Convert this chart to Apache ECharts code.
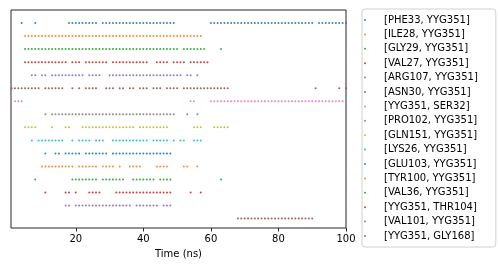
<!DOCTYPE html>
<html>
<head>
<meta charset="utf-8">
<script src="https://cdn.jsdelivr.net/npm/echarts@6/dist/echarts.min.js"></script>
<style>
  html, body { margin: 0; padding: 0; background: #fff; }
  #chart { width: 498px; height: 266px; }
</style>
</head>
<body>
<div id="chart"></div>
<script>
// contact names, top row first
const pairNames = [
    '[PHE33, YYG351]', '[ILE28, YYG351]', '[GLY29, YYG351]', '[VAL27, YYG351]',
    '[ARG107, YYG351]', '[ASN30, YYG351]', '[YYG351, SER32]', '[PRO102, YYG351]',
    '[GLN151, YYG351]', '[LYS26, YYG351]', '[GLU103, YYG351]', '[TYR100, YYG351]',
    '[VAL36, YYG351]', '[YYG351, THR104]', '[VAL101, YYG351]', '[YYG351, GLY168]'
];

// times (ns) at which each contact is present
const phe33 = [4, 8, 18, 19, 20, 21, 22, 23, 24, 25, 26, 28, 29, 30, 31, 32, 33, 34, 35, 36, 37, 38, 39,
    40, 41, 42, 43, 44, 45, 46, 47, 48, 49, 60, 61, 62, 63, 64, 65, 66, 67, 68, 69, 70, 71, 72, 73, 74,
    75, 76, 77, 78, 79, 80, 81, 82, 83, 84, 85, 86, 87, 88, 89, 90, 92, 93, 94, 95, 96, 97, 98, 99, 100];
const ile28 = [5, 6, 7, 8, 9, 10, 11, 12, 13, 14, 15, 16, 17, 18, 19, 20, 21, 22, 23, 24, 25, 26, 27, 28,
    29, 30, 31, 32, 33, 34, 35, 36, 37, 38, 39, 40, 41, 42, 43, 44, 45, 46, 47, 48, 49, 50, 51, 52, 53,
    54, 55, 56, 57];
const gly29 = [5, 6, 7, 8, 9, 10, 11, 12, 13, 14, 15, 16, 17, 18, 19, 20, 21, 22, 23, 24, 25, 26, 27, 28,
    29, 30, 31, 32, 33, 34, 35, 36, 37, 38, 39, 40, 41, 42, 43, 44, 45, 46, 47, 48, 49, 50, 52, 53, 54,
    55, 56, 57, 58, 63];
const val27 = [5, 6, 7, 8, 9, 10, 11, 12, 13, 14, 15, 16, 17, 19, 20, 21, 23, 24, 25, 26, 27, 28, 29,
    31, 32, 33, 34, 35, 36, 37, 38, 39, 40, 41, 44, 45, 46, 47, 49, 50, 51, 52, 54, 55, 56, 57, 58, 59];
const arg107 = [7, 8, 10, 11, 13, 14, 15, 16, 17, 18, 19, 20, 21, 22, 24, 25, 26, 27, 30, 31, 32, 33,
    34, 35, 36, 37, 38, 39, 40, 41, 42, 43, 44, 45, 46, 47, 48, 49, 50, 51, 53, 54, 56];
const asn30 = [1, 2, 3, 4, 5, 6, 7, 8, 9, 11, 12, 13, 14, 15, 16, 19, 21, 23, 24, 25, 26, 29, 30, 31,
    33, 34, 36, 37, 39, 40, 41, 43, 44, 45, 47, 48, 49, 50, 52, 53, 54, 55, 56, 57, 58, 59, 60, 61, 62,
    63, 64, 65, 91, 98, 100];
const ser32 = [2, 3, 4, 54, 55, 60, 61, 62, 63, 64, 65, 66, 67, 68, 69, 70, 71, 72, 73, 74, 75, 76, 77,
    78, 79, 80, 81, 82, 83, 84, 85, 86, 87, 88, 89, 90, 91, 92, 93, 94, 95, 96, 97, 98, 99];
const pro102 = [11, 13, 14, 15, 16, 17, 18, 19, 20, 21, 22, 23, 24, 25, 26, 27, 28, 29, 30, 31, 32, 33,
    34, 35, 36, 37, 38, 39, 40, 41, 42, 43, 44, 45, 46, 47, 48, 49, 53, 56];
const gln151 = [5, 6, 7, 8, 13, 17, 18, 22, 23, 24, 25, 26, 27, 28, 29, 30, 31, 32, 33, 34, 35, 36, 37,
    39, 40, 41, 42, 43, 44, 45, 46, 47, 55, 56, 57, 61, 62, 63, 64, 65];
const lys26 = [7, 9, 10, 11, 12, 13, 14, 15, 16, 19, 21, 22, 23, 24, 26, 27, 28, 31, 32, 33, 34, 35, 36,
    37, 38, 39, 40, 41, 43, 44, 45, 46, 47, 49, 51, 52, 55, 56, 57];
const glu103 = [11, 14, 15, 17, 18, 19, 20, 21, 23, 24, 25, 26, 27, 28, 29, 31, 32, 33, 34, 35, 36, 37,
    38, 39, 40, 41, 42, 43, 44, 45, 46, 47, 48];
const tyr100 = [10, 11, 12, 13, 14, 15, 16, 17, 18, 19, 21, 22, 23, 24, 25, 26, 28, 29, 30, 31, 33, 36,
    37, 38, 39, 44, 45, 46, 47, 52, 53, 56];
const val36 = [8, 19, 20, 21, 22, 23, 24, 25, 26, 28, 29, 30, 31, 32, 33, 34, 37, 38, 39, 40, 41, 42, 43,
    45, 46, 47, 48, 63];
const thr104 = [11, 17, 18, 20, 24, 25, 26, 27, 32, 33, 34, 35, 36, 37, 38, 39, 40, 41, 42, 43, 44, 45,
    46, 47, 48, 54, 57];
const val101 = [17, 18, 20, 21, 22, 23, 24, 25, 26, 27, 28, 29, 30, 31, 32, 33, 34, 35, 36, 38, 39, 40,
    41, 42, 43, 44, 46, 47, 48];
const gly168 = [68, 69, 70, 71, 72, 73, 74, 75, 76, 77, 78, 79, 80, 81, 82, 83, 84, 85, 86, 87, 88, 89, 90];

const contactTimes = [phe33, ile28, gly29, val27, arg107, asn30, ser32, pro102,
    gln151, lys26, glu103, tyr100, val36, thr104, val101, gly168];

const xTicks = [20, 40, 60, 80, 100];

const tab10 = ['#1f77b4', '#ff7f0e', '#2ca02c', '#d62728', '#9467bd',
    '#8c564b', '#e377c2', '#7f7f7f', '#bcbd22', '#17becf'];

const chart = echarts.init(document.getElementById('chart'), null, { renderer: 'canvas' });

const series = pairNames.map((name, row) => ({
    name,
    type: 'scatter',
    symbol: 'circle',
    symbolSize: 2,
    itemStyle: { color: tab10[row % tab10.length], opacity: 0.9 },
    emphasis: { disabled: true },
    data: contactTimes[row].map(t => [t, row])
}));

chart.setOption({
    animation: false,
    backgroundColor: '#fff',
    textStyle: { fontFamily: 'DejaVu Sans' },
    grid: {
        left: 11, top: 10, right: 152, bottom: 38,
        show: true, borderColor: '#262626', borderWidth: 1, backgroundColor: 'transparent'
    },
    legend: {
        orient: 'vertical',
        left: 362, top: 9,
        data: pairNames,
        icon: 'circle',
        itemWidth: 22, itemHeight: 2,
        itemGap: 4.4,
        padding: [6, 18, 6, 2],
        borderColor: '#d0d0d0', borderWidth: 1, borderRadius: 3,
        textStyle: { fontSize: 10, color: '#000', lineHeight: 10, padding: [0, 0, 0, 3], fontFamily: 'DejaVu Sans' }
    },
    xAxis: {
        type: 'value',
        min: 0.83, max: 100,
        name: 'Time (ns)',
        nameLocation: 'middle',
        nameGap: 21,
        nameTextStyle: { fontSize: 10, color: '#000' },
        splitLine: { show: false },
        axisLine: { show: false, onZero: false },
        axisTick: { show: true, length: 3.5, customValues: xTicks, lineStyle: { color: '#262626' } },
        axisLabel: { fontSize: 10, color: '#000', margin: 6, customValues: xTicks }
    },
    yAxis: {
        type: 'value',
        inverse: true,
        min: -1, max: 15.72,
        show: false
    },
    series
});
</script>
</body>
</html>
